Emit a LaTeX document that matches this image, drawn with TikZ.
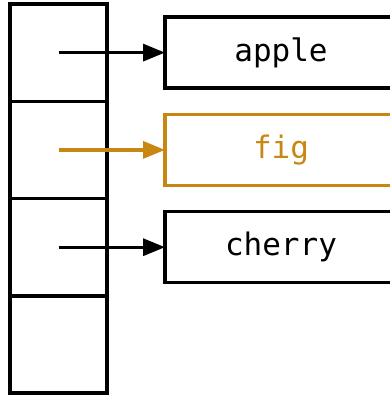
\documentclass[tikz,border=0pt]{standalone}
\usepackage{fontspec}
\setmonofont{DejaVu Sans Mono}
\usetikzlibrary{arrows.meta}
\definecolor{figorange}{RGB}{200,134,18}
\begin{document}
\begin{tikzpicture}[x=1pt,y=-1pt,
  cell/.style={draw,line width=3.4pt,minimum width=97pt,minimum height=97.3pt,inner sep=0pt,outer sep=0pt},
  entry/.style={draw,line width=3.4pt,minimum width=232pt,minimum height=71pt,inner sep=0pt,outer sep=0pt,
    font=\ttfamily\fontsize{31}{31}\selectfont},
  link/.style={line width=3.4pt,-{Triangle[length=22pt,width=17pt]}}]
\useasboundingbox (0,0) rectangle (389,397);
% bucket array
\node[cell] (c0) at (58.5,52.6) {};
\node[cell] (c1) at (58.5,149.9) {};
\node[cell] (c2) at (58.5,247.2) {};
\node[cell] (c3) at (58.5,344.5) {};
% chained entries (they run on past the right edge)
\node[entry] (e0) at (281,52.6) {apple\hspace{6pt}};
\node[entry,draw=figorange,text=figorange] (e1) at (281,149.9) {fig\hspace{6pt}};
\node[entry] (e2) at (281,247.2) {cherry\hspace{6pt}};
% pointers
\draw[link] (c0.center) -- (e0.west);
\draw[link,figorange] (c1.center) -- (e1.west);
\draw[link] (c2.center) -- (e2.west);
\end{tikzpicture}
\end{document}
